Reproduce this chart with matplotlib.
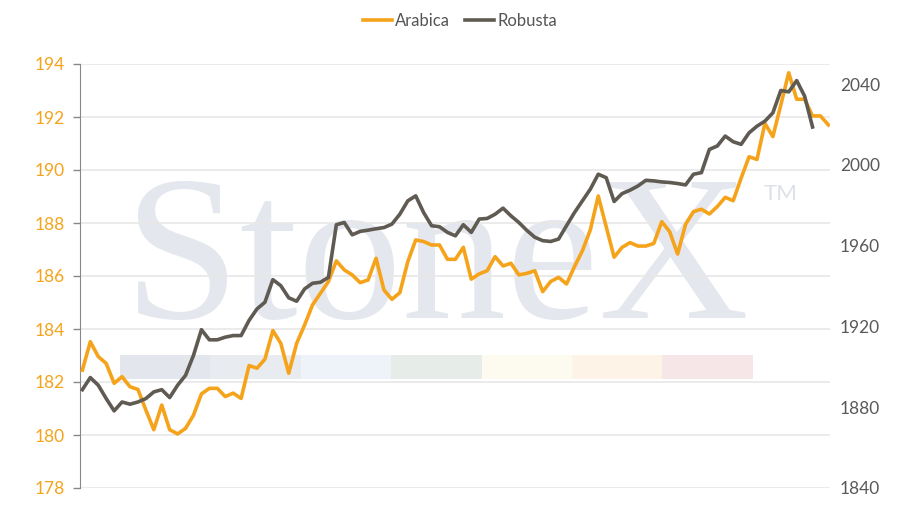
import matplotlib
matplotlib.use("Agg")
import matplotlib.pyplot as plt
from matplotlib.patches import Rectangle

plt.rcParams['font.family'] = ['Lato', 'DejaVu Sans']

# weekly-ish closes
arabica = [182.45, 183.52, 182.96, 182.7, 181.95, 182.2, 181.82, 181.72, 180.94, 180.2,
           181.13, 180.2, 180.04, 180.25, 180.75, 181.55, 181.76, 181.76, 181.45, 181.58,
           181.38, 182.62, 182.52, 182.86, 183.94, 183.46, 182.33, 183.46, 184.15, 184.91,
           185.35, 185.79, 186.57, 186.23, 186.04, 185.75, 185.85, 186.67, 185.47, 185.12,
           185.37, 186.54, 187.36, 187.30, 187.17, 187.17, 186.63, 186.63, 187.08, 185.88,
           186.08, 186.20, 186.73, 186.38, 186.48, 186.04, 186.10, 186.2, 185.41, 185.79,
           185.95, 185.70, 186.35, 186.95, 187.74, 189.02, 187.86, 186.71, 187.08, 187.26,
           187.13, 187.13, 187.23, 188.05, 187.67, 186.83, 187.95, 188.43, 188.52, 188.34,
           188.62, 188.97, 188.84, 189.69, 190.50, 190.40, 191.76, 191.26, 192.45, 193.67,
           192.67, 192.67, 192.04, 192.04, 191.70]

robusta = [1888.7, 1894.7, 1890.9, 1884.3, 1878.2, 1882.6, 1881.5, 1882.6, 1884.3, 1887.6,
           1888.7, 1884.8, 1890.9, 1895.8, 1905.7, 1918.4, 1913.4, 1913.4, 1914.7, 1915.5,
           1915.5, 1923.0, 1928.7, 1932.0, 1943.2, 1940.2, 1934.2, 1932.5, 1938.6, 1941.4,
           1941.9, 1944.3, 1970.4, 1971.5, 1965.4, 1967.1, 1967.7, 1968.4, 1969.0, 1970.7,
           1975.6, 1982.2, 1984.7, 1976.4, 1969.9, 1969.4, 1966.6, 1964.9, 1970.4, 1966.6,
           1973.2, 1973.5, 1975.6, 1978.6, 1974.8, 1971.5, 1967.6, 1964.2, 1962.5, 1962.1,
           1963.3, 1969.9, 1976.4, 1982.2, 1988.0, 1995.4, 1993.7, 1981.9, 1985.8, 1987.5,
           1989.6, 1992.4, 1992.1, 1991.6, 1991.3, 1990.8, 1990.1, 1995.4, 1996.2, 2007.7,
           2009.4, 2014.3, 2011.5, 2010.2, 2015.9, 2019.2, 2021.7, 2025.8, 2036.9, 2036.2,
           2041.8, 2034.1, 2018.8]

left_ticks = [178, 180, 182, 184, 186, 188, 190, 192, 194]
right_ticks = [1840, 1880, 1920, 1960, 2000, 2040]

band_colors = ['#e3e7ed', '#e8ecf1', '#eef3f9', '#e6ede9', '#fdfbef', '#fdf4e7', '#f7e6e7']

ORANGE = '#f5a31a'
DARK = '#5f5a52'

fig = plt.figure(figsize=(9.2, 5.29), dpi=100)
ax = fig.add_axes([80 / 920, 1 - 488 / 529, 750 / 920, 424 / 529])
ax2 = ax.twinx()

# StoneX watermark + colour strip
ax.text(0.476, 0.40, 'StoneX', transform=ax.transAxes, ha='center', va='baseline',
        fontsize=150, family='Liberation Serif', color='#e4e7ed', zorder=0.1)
ax.text(0.911, 0.693, 'TM', transform=ax.transAxes, ha='left', va='center',
        fontsize=16, color='#dde1e7', zorder=0.1)
bw = (0.897 - 0.0533) / len(band_colors)
for k, c in enumerate(band_colors):
    ax.add_patch(Rectangle((0.0533 + k * bw, 0.257), bw, 0.057, transform=ax.transAxes,
                           facecolor=c, edgecolor='none', zorder=0.2))

x1 = list(range(len(arabica)))
x2 = list(range(len(robusta)))
ax.plot(x1, arabica, color=ORANGE, lw=2.6, label='Arabica', zorder=3,
        solid_joinstyle='round')
ax2.plot(x2, robusta, color=DARK, lw=2.6, label='Robusta', zorder=3,
         solid_joinstyle='round')

ax.set_xlim(-0.3, 94.2)
ax.set_ylim(178, 194)
ax2.set_ylim(1840, 2050)
ax.set_yticks(left_ticks)
ax2.set_yticks(right_ticks)
ax.set_xticks([])

ax.grid(axis='y', color='#e8e8e8', lw=1.2, zorder=0.5)
ax.set_axisbelow(True)

for s in ['top', 'right', 'bottom']:
    ax.spines[s].set_visible(False)
for s in ['top', 'right', 'bottom', 'left']:
    ax2.spines[s].set_visible(False)
ax.spines['left'].set_color('#888888')
ax.tick_params(axis='y', colors='#888888', length=5, width=1, labelcolor=ORANGE,
               labelsize=12.5, pad=6)
ax2.tick_params(axis='y', length=0, labelcolor='#595959', labelsize=12.5, pad=7)

h1, l1 = ax.get_legend_handles_labels()
h2, l2 = ax2.get_legend_handles_labels()
fig.legend(h1 + h2, l1 + l2, loc='center', bbox_to_anchor=(0.5, 1 - 21 / 529), ncol=2,
           frameon=False, fontsize=12, handlelength=1.75, handletextpad=0.2,
           columnspacing=0.9, labelcolor='#555555')

fig.savefig('out.png', dpi=100)
